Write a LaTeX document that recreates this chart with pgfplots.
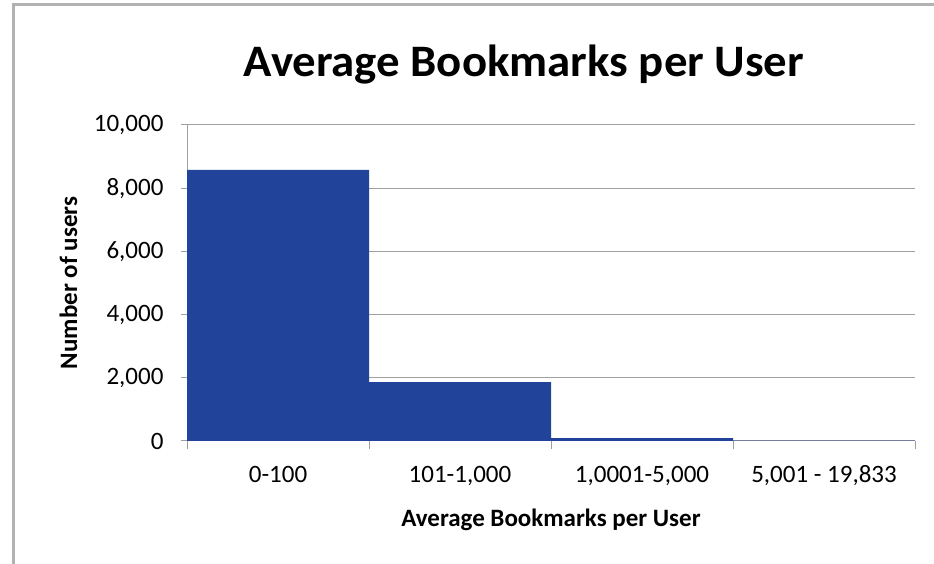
\documentclass[border=0pt]{standalone}
\usepackage{pgfplots}
\pgfplotsset{compat=1.18}
\usepackage{fontspec}
\setmainfont{Carlito}
\definecolor{barblue}{RGB}{33,68,154}
\definecolor{gridgray}{RGB}{160,160,160}
\begin{document}
\begin{tikzpicture}[x=1pt,y=1pt]
\useasboundingbox (0,0) rectangle (934,564);
\fill[white] (0,0) rectangle (934,564);
\draw[gray!60, line width=3pt] (13,0) -- (13,559) -- (934,559);
\node[font=\fontsize{45}{50}\selectfont\bfseries, xscale=1.04] at (524,499) {Average Bookmarks per User};
\begin{axis}[
  at={(187pt,123pt)}, anchor=south west,
  scale only axis, width=728pt, height=316pt,
  xmin=-0.5, xmax=3.5, ymin=0, ymax=10000,
  axis x line*=bottom, axis y line*=left,
  axis line style={gridgray, line width=1pt, -},
  ytick={0,2000,...,10000},
  ymajorgrids, major grid style={gridgray, line width=1pt},
  xtick={0,1,2,3},
  xticklabels={0-100,{101-1,000},{1,0001-5,000},{5,001 - 19,833}},
  major x tick style={draw=none},
  minor xtick={-0.5,0.5,1.5,2.5,3.5},
  minor tick length=8pt,
  minor x tick style={gridgray, line width=1pt},
  major y tick style={gridgray, line width=1pt},
  major tick length=6pt,
  tick align=outside,
  xticklabel style={font=\fontsize{25}{28}\selectfont, anchor=base, yshift=-36pt},
  yticklabel style={font=\fontsize{25}{28}\selectfont, anchor=east, xshift=-14pt},
  /pgf/number format/assume math mode=true,
  /pgf/number format/.cd, 1000 sep={,}, fixed, /pgfplots/.cd,
  scaled y ticks=false,
  ylabel={Number of users},
  xlabel={Average Bookmarks per User},
  ylabel style={font=\fontsize{25}{28}\selectfont\bfseries, at={(axis description cs:-0.163,0.5)}, anchor=center},
  xlabel style={font=\fontsize{25}{28}\selectfont\bfseries, at={(axis description cs:0.5,-0.25)}, anchor=center},
  ybar, bar width=1, bar shift=0pt,
]
\addplot[fill=barblue, draw=none] coordinates {(0,8580) (1,1860) (2,90) (3,8)};
\end{axis}
\end{tikzpicture}
\end{document}
